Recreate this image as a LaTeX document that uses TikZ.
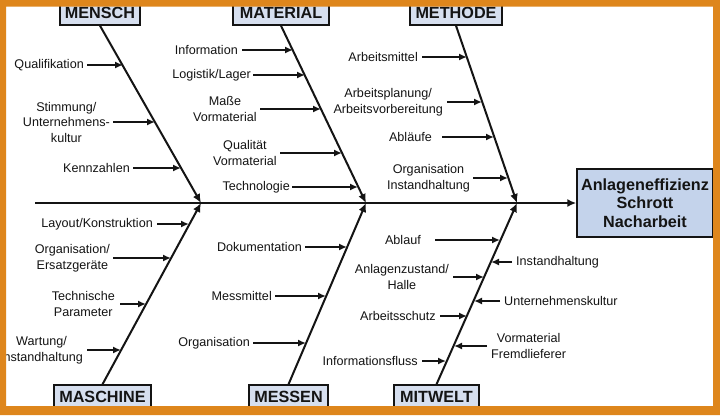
\documentclass[tikz,border=0pt]{standalone}
\usepackage{fontspec}
\setmainfont{Liberation Sans}
\usetikzlibrary{arrows.meta,calc}
\definecolor{frameor}{RGB}{222,134,28}
\definecolor{catfill}{RGB}{214,223,239}
\definecolor{effill}{RGB}{196,211,235}
\definecolor{ink}{RGB}{20,20,20}
\begin{document}
\begin{tikzpicture}[x=1pt,y=-1pt,
  lbl/.style={font=\fontsize{12.6}{15.5}\selectfont, inner sep=0pt, align=center, text=ink},
  cat/.style={draw=ink, line width=1.4pt, fill=catfill, font=\bfseries\fontsize{16.2}{18}\selectfont, inner sep=0pt, text=ink},
  bone/.style={draw=ink, line width=2pt, -{Latex[length=9pt,width=8pt]}},
  arr/.style={draw=ink, line width=1.9pt, -{Latex[length=8pt,width=7pt]}},
]
\useasboundingbox (0,0) rectangle (720,415);
\fill[white] (0,0) rectangle (720,415);

% category boxes
\node[cat, minimum width=80pt, minimum height=25pt] (mensch) at (100,12.5) {MENSCH};
\node[cat, minimum width=96pt, minimum height=25pt] (material) at (281,12.5) {MATERIAL};
\node[cat, minimum width=92pt, minimum height=25pt] (methode) at (456,12.5) {METHODE};
\node[cat, minimum width=97pt, minimum height=23pt] (maschine) at (102.5,396.5) {MASCHINE};
\node[cat, minimum width=79pt, minimum height=23pt] (messen) at (288.5,396.5) {MESSEN};
\node[cat, minimum width=85pt, minimum height=23pt] (mitwelt) at (436.5,396.5) {MITWELT};

% effect box
\node[draw=ink, line width=1.4pt, fill=effill, text=ink, font=\bfseries\fontsize{16.2}{18.5}\selectfont, align=center, minimum width=136pt, minimum height=68pt, inner sep=0pt] (effect) at (645,203) {Anlageneffizienz\\Schrott\\Nacharbeit};

% spine and bones
\coordinate (tail) at (35,203);
\coordinate (j1) at (201,203);
\coordinate (j2) at (366,203);
\coordinate (j3) at (517,203);
\draw[bone] (tail) -- (effect.west);
\draw[bone] (mensch.south) -- (j1);
\draw[bone] (material.south) -- (j2);
\draw[bone] (methode.south) -- (j3);
\draw[bone] (maschine.north) -- (j1);
\draw[bone] (messen.north) -- (j2);
\draw[bone] (mitwelt.north) -- (j3);

% MENSCH
\node[lbl, anchor=east] (a1) at (84,65) {Qualifikation};
\coordinate (pa1) at (123,65);
\draw[arr] ($(pa1 -| a1.east)+(3,0)$) -- (pa1);
\node[lbl, anchor=east] (a2) at (110,122) {Stimmung/\\Unternehmens-\\kultur};
\coordinate (pa2) at (155,122);
\draw[arr] ($(pa2 -| a2.east)+(3,0)$) -- (pa2);
\node[lbl, anchor=east] (a3) at (130,168) {Kennzahlen};
\coordinate (pa3) at (181,168);
\draw[arr] ($(pa3 -| a3.east)+(3,0)$) -- (pa3);

% MATERIAL
\node[lbl, anchor=east] (b1) at (238,50) {Information};
\coordinate (pb1) at (293,50);
\draw[arr] ($(pb1 -| b1.east)+(4,0)$) -- (pb1);
\node[lbl, anchor=east] (b2) at (251,75) {Logistik/Lager};
\coordinate (pb2) at (305,75);
\draw[arr] ($(pb2 -| b2.east)+(2,0)$) -- (pb2);
\node[lbl, anchor=east] (b3) at (257,109) {Maße\\Vormaterial};
\coordinate (pb3) at (321,109);
\draw[arr] ($(pb3 -| b3.east)+(3,0)$) -- (pb3);
\node[lbl, anchor=east] (b4) at (277,153) {Qualität\\Vormaterial};
\coordinate (pb4) at (342,153);
\draw[arr] ($(pb4 -| b4.east)+(3,0)$) -- (pb4);
\node[lbl, anchor=east] (b5) at (290,187) {Technologie};
\coordinate (pb5) at (358,187);
\draw[arr] ($(pb5 -| b5.east)+(2,0)$) -- (pb5);

% METHODE
\node[lbl, anchor=east] (c1) at (418,57) {Arbeitsmittel};
\coordinate (pc1) at (467,57);
\draw[arr] ($(pc1 -| c1.east)+(4,0)$) -- (pc1);
\node[lbl, anchor=east] (c2) at (443,102) {Arbeitsplanung/\\Arbeitsvorbereitung};
\coordinate (pc2) at (482,102);
\draw[arr] ($(pc2 -| c2.east)+(4,0)$) -- (pc2);
\node[lbl, anchor=east] (c3) at (432,137) {Abläufe};
\coordinate (pc3) at (494,137);
\draw[arr] ($(pc3 -| c3.east)+(10,0)$) -- (pc3);
\node[lbl, anchor=east] (c4) at (470,178) {Organisation\\Instandhaltung};
\coordinate (pc4) at (508,178);
\draw[arr] ($(pc4 -| c4.east)+(3,0)$) -- (pc4);

% MASCHINE
\node[lbl, anchor=east] (d1) at (153,224) {Layout/Konstruktion};
\coordinate (pd1) at (189,224);
\draw[arr] ($(pd1 -| d1.east)+(4,0)$) -- (pd1);
\node[lbl, anchor=east] (d2) at (110,258) {Organisation/\\Ersatzgeräte};
\coordinate (pd2) at (171,258);
\draw[arr] ($(pd2 -| d2.east)+(3,0)$) -- (pd2);
\node[lbl, anchor=east] (d3) at (115,304) {Technische\\Parameter};
\coordinate (pd3) at (146,304);
\draw[arr] ($(pd3 -| d3.east)+(5,0)$) -- (pd3);
\node[lbl, anchor=east] (d4) at (83,350) {Wartung/\\Instandhaltung};
\coordinate (pd4) at (121,350);
\draw[arr] ($(pd4 -| d4.east)+(4,0)$) -- (pd4);

% MESSEN
\node[lbl, anchor=east] (e1) at (302,247) {Dokumentation};
\coordinate (pe1) at (347,247);
\draw[arr] ($(pe1 -| e1.east)+(3,0)$) -- (pe1);
\node[lbl, anchor=east] (e2) at (272,296) {Messmittel};
\coordinate (pe2) at (326,296);
\draw[arr] ($(pe2 -| e2.east)+(3,0)$) -- (pe2);
\node[lbl, anchor=east] (e3) at (250,343) {Organisation};
\coordinate (pe3) at (306,343);
\draw[arr] ($(pe3 -| e3.east)+(3,0)$) -- (pe3);

% MITWELT (left side)
\node[lbl, anchor=east] (f1) at (421,240) {Ablauf};
\coordinate (pf1) at (500,240);
\draw[arr] ($(pf1 -| f1.east)+(14,0)$) -- (pf1);
\node[lbl, anchor=east] (f2) at (449,277) {Anlagenzustand/\\Halle};
\coordinate (pf2) at (484,277);
\draw[arr] ($(pf2 -| f2.east)+(4,0)$) -- (pf2);
\node[lbl, anchor=east] (f3) at (436,316) {Arbeitsschutz};
\coordinate (pf3) at (467,316);
\draw[arr] ($(pf3 -| f3.east)+(4,0)$) -- (pf3);
\node[lbl, anchor=east] (f4) at (418,361) {Informationsfluss};
\coordinate (pf4) at (446,361);
\draw[arr] ($(pf4 -| f4.east)+(4,0)$) -- (pf4);

% MITWELT (right side)
\node[lbl, anchor=west] (g1) at (516,262) {Instandhaltung};
\coordinate (pg1) at (491,262);
\draw[arr] ($(pg1 -| g1.west)+(-4,0)$) -- (pg1);
\node[lbl, anchor=west] (g2) at (504,301) {Unternehmenskultur};
\coordinate (pg2) at (474,301);
\draw[arr] ($(pg2 -| g2.west)+(-4,0)$) -- (pg2);
\node[lbl, anchor=west] (g3) at (491,346) {Vormaterial\\Fremdlieferer};
\coordinate (pg3) at (454,346);
\draw[arr] ($(pg3 -| g3.west)+(-4,0)$) -- (pg3);

% orange frame
\fill[frameor, even odd rule] (0,0) rectangle (720,415) (6,6.5) rectangle (713,406);
\end{tikzpicture}
\end{document}
